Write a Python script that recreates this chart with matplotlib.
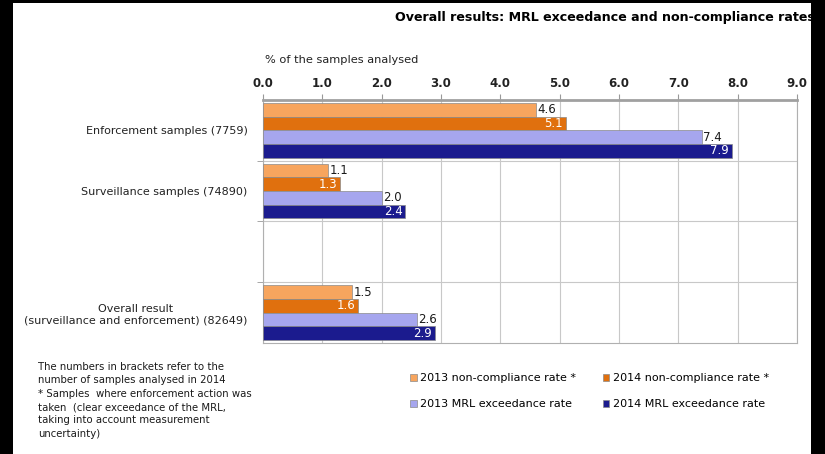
import numpy as np
import matplotlib
matplotlib.use("Agg")
import matplotlib.pyplot as plt
from matplotlib.patches import Rectangle

# Rates in % of samples analysed; third row is an empty spacer
categories = ["Enforcement samples (7759)", "Surveillance samples (74890)", "",
              "Overall result\n(surveillance and enforcement) (82649)"]
nc_2013 = [4.6, 1.1, np.nan, 1.5]
nc_2014 = [5.1, 1.3, np.nan, 1.6]
mrl_2013 = [7.4, 2.0, np.nan, 2.6]
mrl_2014 = [7.9, 2.4, np.nan, 2.9]
series_names = ["2013 non-compliance rate *", "2014 non-compliance rate *",
                "2013 MRL exceedance rate", "2014 MRL exceedance rate"]
xticks = np.arange(0, 9.5, 1.0)

colors = ["#F7A55E", "#E0700E", "#A6A6EE", "#1B1B8E"]
label_colors = ["#1a1a1a", "white", "#1a1a1a", "white"]
series = [nc_2013, nc_2014, mrl_2013, mrl_2014]

fig = plt.figure(figsize=(8.25, 4.54), dpi=100)
ax = fig.add_axes([263/825, 1-343/454, (797-263)/825, (343-100)/454])

y = np.arange(len(categories))
h = 0.225
offsets = [-1.5*h, -0.5*h, 0.5*h, 1.5*h]
handles = []
for vals, off, c, lc, name in zip(series, offsets, colors, label_colors, series_names):
    bars = ax.barh(y + off, vals, height=h, color=c, edgecolor="#8a8a8a",
                   linewidth=0.5, label=name, zorder=3)
    handles.append(bars)
    for yi, v in zip(y, vals):
        if np.isnan(v):
            continue
        if lc == "white":
            ax.text(v - 0.05, yi + off, f"{v:.1f}", ha="right", va="center",
                    color=lc, fontsize=8.5, zorder=4)
        else:
            ax.text(v + 0.02, yi + off, f"{v:.1f}", ha="left", va="center",
                    color=lc, fontsize=8.5, zorder=4)

ax.set_xlim(0, 9)
ax.set_ylim(3.5, -0.5)
ax.xaxis.tick_top()
ax.set_xticks(xticks)
ax.set_xticklabels([f"{t:.1f}" for t in xticks], fontsize=8.5, color="#222222",
                   fontweight="bold")
ax.tick_params(axis="x", length=4, color="#999999", pad=3)
ax.set_yticks(y)
ax.set_yticklabels(categories, fontsize=8, color="#222222",
                   multialignment="center")
ax.tick_params(axis="y", length=0, pad=11)
ax.set_yticks([0.5, 1.5, 2.5], minor=True)
ax.tick_params(axis="y", which="minor", length=4, color="#999999")
ax.grid(axis="x", color="#c8c8c8", linewidth=0.8, zorder=0)
ax.grid(axis="y", which="minor", color="#c8c8c8", linewidth=0.8, zorder=0)
for s in ax.spines.values():
    s.set_color("#b0b0b0")
    s.set_linewidth(0.8)
ax.spines["top"].set_color("#a0a0a0")
ax.spines["top"].set_linewidth(2)

fig.text(395/825, 1-18/454, "Overall results: MRL exceedance and non-compliance rates",
         fontsize=9.1, fontweight="bold", va="center", ha="left")
fig.text(265/825, 1-60/454, "% of the samples analysed", fontsize=8.2,
         va="center", ha="left", color="#222222")

# legend filled row by row
order = [0, 2, 1, 3]
fig.legend([handles[i] for i in order], [series_names[i] for i in order],
           loc="upper left", bbox_to_anchor=(410/825, 1-373/454), ncol=2,
           frameon=False, fontsize=8, handlelength=0.6, handleheight=0.6,
           handletextpad=0.3, columnspacing=2.4, labelspacing=1.45,
           borderaxespad=0, borderpad=0)

note = ("The numbers in brackets refer to the\n"
        "number of samples analysed in 2014\n"
        "* Samples  where enforcement action was\n"
        "taken  (clear exceedance of the MRL,\n"
        "taking into account measurement\n"
        "uncertainty)")
fig.text(38/825, 1-362/454, note, fontsize=7.3, va="top", ha="left",
         linespacing=1.42, color="#1a1a1a")

# dark frame strips around the page
for x0, y0, w, hh in [(0, 0, 13/825, 1), (811/825, 0, 14/825, 1), (0, 1-3/454, 1, 3/454)]:
    fig.patches.append(Rectangle((x0, y0), w, hh, transform=fig.transFigure,
                                 facecolor="black", edgecolor="none", zorder=10))

fig.savefig("out.png", dpi=100)
